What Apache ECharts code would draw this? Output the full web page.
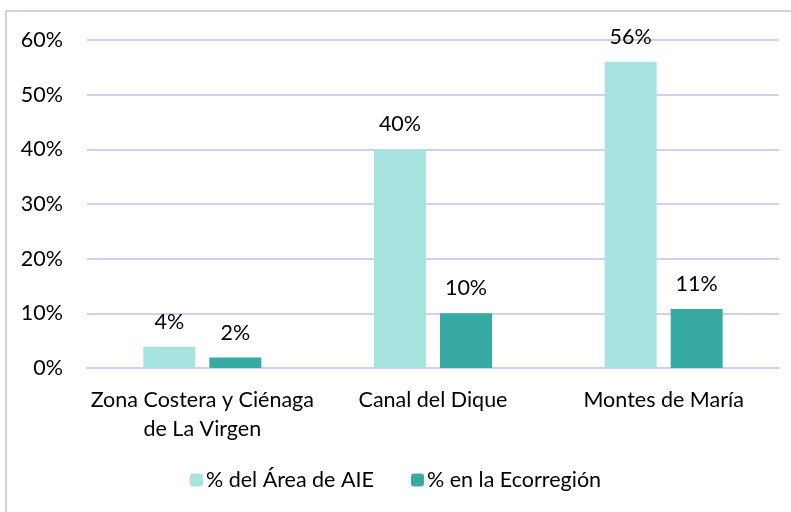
<!doctype html>
<html>
<head>
    <meta charset="utf-8">
    <title>AIE</title>
    <script type="text/javascript" src="https://cdn.jsdelivr.net/npm/echarts@6/dist/echarts.min.js"></script>
    <style>
        html, body { margin: 0; padding: 0; background: #fff; }
        #container { width: 791px; height: 512px; }
    </style>
</head>
<body>
<div id="container"></div>
<script type="text/javascript">
    // categorias y valores (%)
    var categorias = ['Zona Costera y Ciénaga\nde La Virgen', 'Canal del Dique', 'Montes de María'];
    var areaAIE = [3.9, 40, 56];
    var ecorregion = [1.9, 10, 10.8];
    var nombres = ['% del Área de AIE', '% en la Ecorregión'];
    var colores = ['#a8e4df', '#37aaa1'];

    var fuente = 'Lato';
    var tam = 21.5;
    var dom = document.getElementById("container");
    var myChart = echarts.init(dom);

    var etiqueta = {
        show: true,
        position: 'top',
        distance: 14,
        color: '#000',
        fontFamily: fuente,
        fontSize: tam,
        formatter: function (p) { return Math.round(p.value) + '%'; }
    };

    var option = {
        animation: false,
        color: colores,
        graphic: [{
            type: 'rect',
            shape: { x: 6, y: 11, width: 900, height: 600 },
            style: { fill: 'none', stroke: '#d3cfef', lineWidth: 2 },
            silent: true
        }],
        grid: { left: 87, right: 12, top: 40, bottom: 144 },
        legend: {
            bottom: 16,
            left: 'center',
            itemWidth: 13,
            itemHeight: 13,
            itemGap: 37,
            textStyle: { fontFamily: fuente, fontSize: tam, color: '#000', padding: [0, 0, 0, -2] },
            data: nombres
        },
        xAxis: {
            type: 'category',
            data: categorias,
            axisLine: { lineStyle: { color: '#d3cfef', width: 2 } },
            axisTick: { show: false },
            axisLabel: { interval: 0, fontFamily: fuente, fontSize: tam, color: '#000', margin: 18, lineHeight: 29 }
        },
        yAxis: {
            type: 'value',
            min: 0,
            max: 60,
            interval: 10,
            axisLine: { show: false },
            axisTick: { show: false },
            splitLine: { lineStyle: { color: '#d3cfef', width: 2 } },
            axisLabel: { fontFamily: fuente, fontSize: tam, color: '#000', margin: 24, formatter: '{value}%' }
        },
        series: [
            { name: nombres[0], type: 'bar', data: areaAIE, barWidth: 52, barGap: '27%', label: etiqueta },
            { name: nombres[1], type: 'bar', data: ecorregion, barWidth: 52, label: etiqueta }
        ]
    };

    myChart.setOption(option, true);
</script>
</body>
</html>
